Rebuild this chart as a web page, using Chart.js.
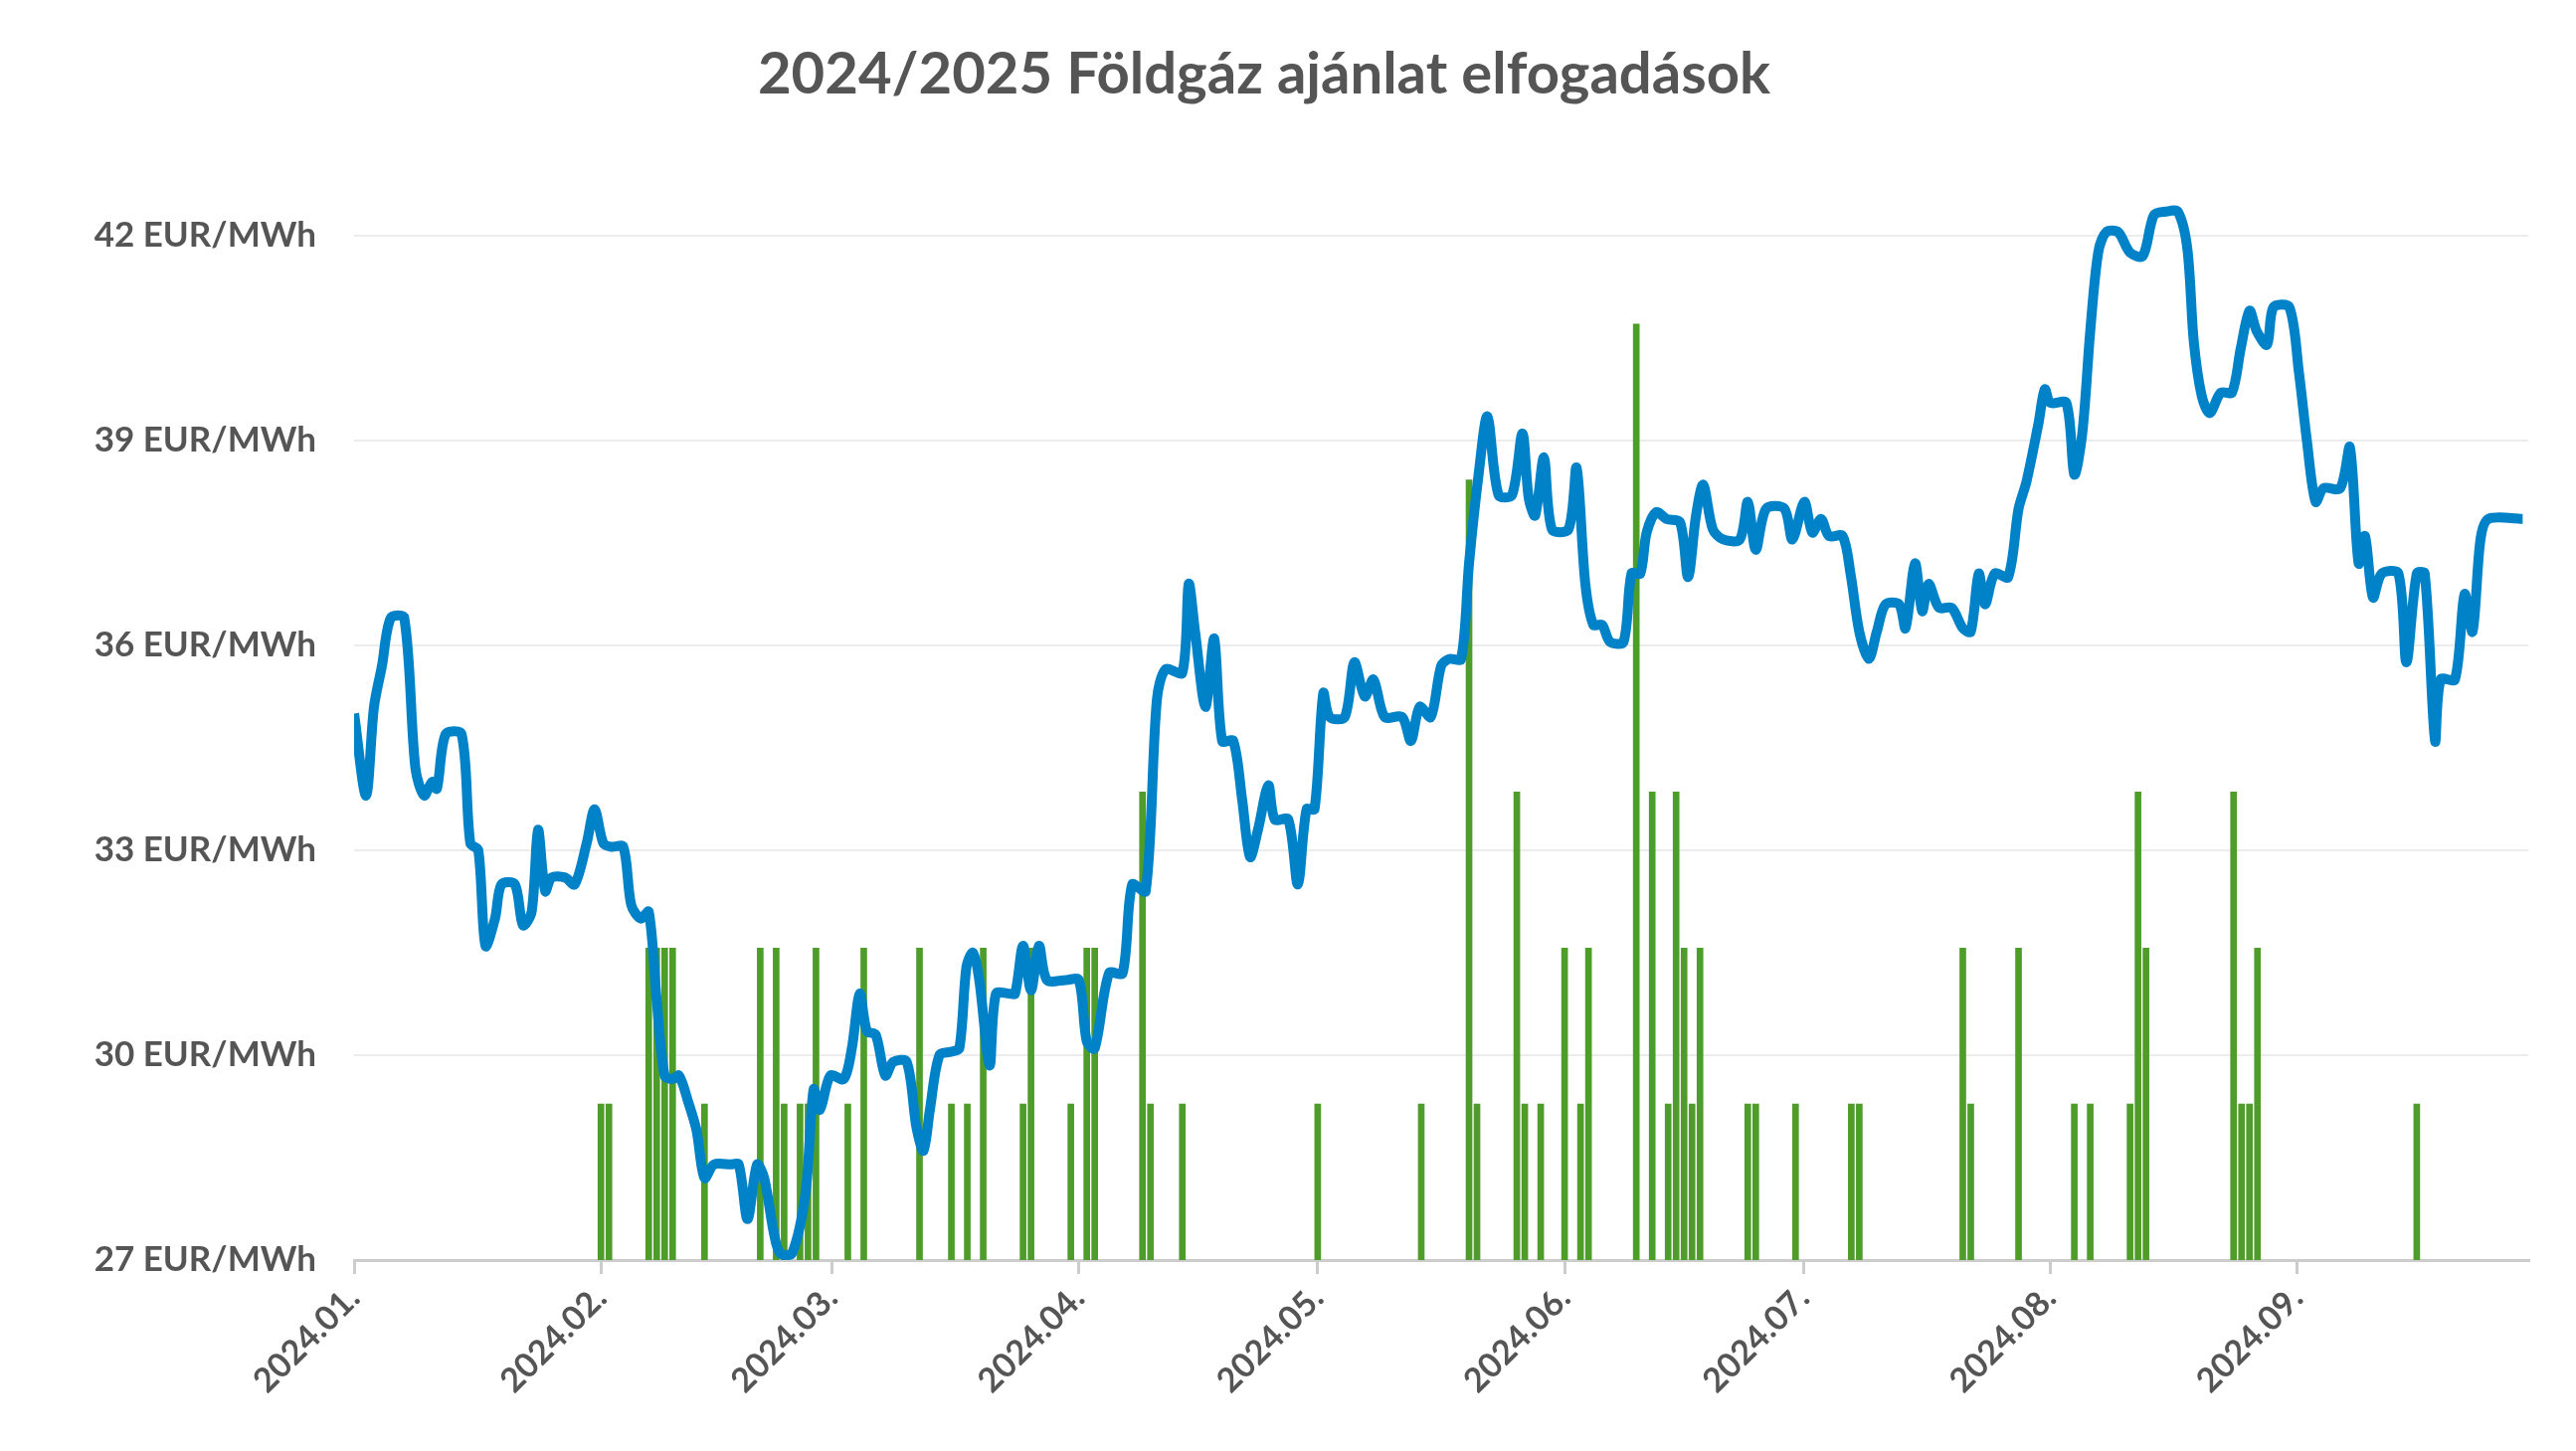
<!DOCTYPE html>
<html>
<head>
<meta charset="utf-8">
<script src="https://cdn.jsdelivr.net/npm/chart.js@4"></script>
<style>
  html, body { margin: 0; padding: 0; background: #fff; }
  #wrap { width: 2590px; height: 1459px; }
</style>
</head>
<body>
<div id="wrap"><canvas id="myChart"></canvas></div>
<script>
// day of year (0 = 2024-01-01)
const monthStarts = [0, 31, 60, 91, 121, 152, 182, 213, 244];
const monthLabels = ['2024.01.', '2024.02.', '2024.03.', '2024.04.', '2024.05.', '2024.06.', '2024.07.', '2024.08.', '2024.09.'];
const yTicks = [27, 30, 33, 36, 39, 42];

const priceDays = [0, 1.5, 2.5, 3.5, 4.6, 6.3, 7.7, 8.8, 9.8, 10.4, 11.5, 13.5, 14.6, 15.6, 16.5, 17.7, 18.5, 20.2, 21.2, 22.3,
  23.1, 24, 24.8, 26.5, 27.7, 29.2, 30.2, 31.3, 32.3, 33.8, 34.8, 36, 37, 38, 39, 40, 40.8, 42, 43, 44,
  45.2, 47.3, 48.3, 49.4, 50.6, 51.5, 52.7, 53.5, 55, 56.7, 57.7, 58.5, 59.8, 61.5, 62.5, 63.5, 64.4, 65.5, 66.7, 67.7,
  69.4, 70.6, 71.5, 72.3, 73.5, 75, 76, 76.9, 77.7, 78.5, 79.8, 80.6, 82.3, 83, 84, 85, 86, 87, 89.4, 91,
  92, 93, 94.8, 96.5, 97.7, 99.4, 100.8, 101.9, 104, 104.8, 105.6, 106.9, 108, 109, 110.4, 111.5, 112.5, 113.5, 114.8, 115.6,
  117.3, 118.5, 119.6, 120.6, 121.7, 122.5, 124.4, 125.6, 126.9, 128, 129.4, 131.6, 132.7, 133.8, 135.2, 136.5, 137.5, 139, 140, 141.2,
  142.3, 143.7, 145.4, 146.7, 147.5, 148.3, 149.4, 150.4, 152.5, 153.5, 154.6, 155.6, 156.7, 157.7, 159.4, 160.4, 161.5, 162.3, 163.5, 164.8,
  166.5, 167.5, 168.5, 169.4, 170.6, 171.9, 174, 175, 176, 177.3, 179.6, 180.6, 182.1, 183.1, 184.2, 185.2, 186.9, 187.9, 189, 190.2,
  191.2, 192.3, 194, 194.8, 196, 196.9, 197.7, 199, 200.6, 202, 203, 204, 204.8, 206, 207.7, 209, 210, 211.5, 212.3, 213,
  215, 216, 217, 218, 219, 220, 221.5, 223, 224.6, 226, 227.5, 229, 230.2, 231, 232, 233, 234.4, 235.8, 236.9, 238,
  238.9, 240.2, 241, 243, 244.2, 245.2, 246.3, 247.3, 249.4, 250.6, 251.7, 252.5, 253.5, 254.6, 256.7, 257.7, 259, 260, 261.3, 262,
  263.8, 265, 266, 267, 268, 272.3];
const prices = [35.0, 33.8, 35.1, 35.7, 36.4, 36.4, 34.2, 33.8, 34.0, 33.9, 34.7, 34.7, 33.1, 33.0, 31.6, 32.0, 32.5, 32.5, 31.9, 32.1,
  33.3, 32.4, 32.6, 32.6, 32.5, 33.1, 33.6, 33.1, 33.05, 33.05, 32.2, 32.0, 32.1, 30.8, 29.7, 29.65, 29.7, 29.3, 28.9, 28.2,
  28.4, 28.4, 28.4, 27.6, 28.4, 28.2, 27.4, 27.1, 27.1, 28.0, 29.5, 29.2, 29.7, 29.65, 30.1, 30.9, 30.35, 30.3, 29.7, 29.9,
  29.9, 28.95, 28.6, 29.2, 30.0, 30.05, 30.1, 31.3, 31.5, 31.1, 29.85, 30.9, 30.9, 30.9, 31.6, 30.95, 31.6, 31.1, 31.1, 31.1,
  30.2, 30.1, 31.2, 31.2, 32.5, 32.4, 35.2, 35.65, 35.6, 36.9, 36.2, 35.1, 36.1, 34.6, 34.6, 33.75, 32.9, 33.3, 33.95, 33.45,
  33.45, 32.5, 33.6, 33.6, 35.3, 34.95, 34.95, 35.75, 35.25, 35.5, 34.95, 34.95, 34.6, 35.1, 34.95, 35.7, 35.8, 35.8, 37.2, 38.5,
  39.35, 38.2, 38.2, 39.1, 38.15, 37.9, 38.75, 37.7, 37.7, 38.6, 36.9, 36.3, 36.3, 36.05, 36.05, 37.05, 37.05, 37.65, 37.95, 37.85,
  37.8, 37.0, 37.9, 38.35, 37.7, 37.55, 37.55, 38.1, 37.4, 38.0, 38.0, 37.55, 38.1, 37.65, 37.85, 37.6, 37.6, 37.05, 36.2, 35.8,
  36.2, 36.6, 36.6, 36.25, 37.2, 36.5, 36.9, 36.55, 36.55, 36.25, 36.2, 37.05, 36.6, 37.05, 37.0, 38.0, 38.4, 39.25, 39.75, 39.55,
  39.55, 38.5, 39.1, 40.6, 41.75, 42.05, 42.05, 41.75, 41.7, 42.3, 42.35, 42.35, 41.8, 40.45, 39.65, 39.4, 39.7, 39.7, 40.35, 40.9,
  40.6, 40.4, 40.95, 40.95, 40.0, 39.0, 38.1, 38.3, 38.3, 38.9, 37.2, 37.6, 36.7, 37.05, 37.05, 35.75, 37.05, 37.05, 34.6, 35.5,
  35.5, 36.75, 36.2, 37.55, 37.85, 37.85];

// accepted offers per day
const offerDays = [31, 32, 37, 38, 39, 40, 44, 51, 53, 54, 56, 57, 58, 62, 64, 71, 75, 77, 79, 84,
  85, 90, 92, 93, 99, 100, 104, 121, 134, 140, 141, 146, 147, 149, 152, 154, 155, 161, 163, 165,
  166, 167, 168, 169, 175, 176, 181, 188, 189, 202, 203, 209, 216, 218, 223, 224, 225, 236, 237, 238,
  239, 259];
const offerCounts = [1, 1, 2, 2, 2, 2, 1, 2, 2, 1, 1, 1, 2, 1, 2, 2, 1, 1, 2, 1,
  2, 1, 2, 2, 3, 1, 1, 1, 1, 5, 1, 3, 1, 1, 2, 1, 2, 6, 3, 1,
  3, 2, 1, 2, 1, 1, 1, 1, 1, 2, 1, 2, 1, 1, 1, 3, 2, 3, 1, 1,
  2, 1];

const textColor = '#555555';
const fontFamily = 'Lato, "Open Sans", sans-serif';

const ctx = document.getElementById('myChart').getContext('2d');
new Chart(ctx, {
    data: {
        datasets: [{
            type: 'line',
            label: 'Ár',
            data: priceDays.map((d, i) => ({ x: d, y: prices[i] })),
            borderColor: '#0082C8',
            borderWidth: 10,
            pointRadius: 0,
            tension: 0.3,
            yAxisID: 'y',
            order: 1
        }, {
            type: 'bar',
            label: 'Elfogadások',
            data: offerDays.map((d, i) => ({ x: d, y: offerCounts[i] })),
            backgroundColor: '#4E9C2A',
            barThickness: 6,
            yAxisID: 'y2',
            order: 2
        }]
    },
    options: {
        responsive: true,
        maintainAspectRatio: false,
        animation: false,
        layout: { padding: { left: 0, right: 48, bottom: 8 } },
        plugins: {
            legend: { display: false },
            tooltip: { enabled: false },
            title: {
                display: true,
                text: '2024/2025 Földgáz ajánlat elfogadások',
                color: textColor,
                font: { family: fontFamily, size: 58, weight: 'bold' },
                padding: { top: 40, bottom: 86 }
            }
        },
        scales: {
            x: {
                type: 'linear',
                offset: false,
                min: 0,
                max: 273,
                afterBuildTicks: s => { s.ticks = monthStarts.map(v => ({ value: v })); },
                ticks: {
                    callback: v => monthLabels[monthStarts.indexOf(v)],
                    color: textColor,
                    font: { family: fontFamily, size: 34, weight: 'bold' },
                    minRotation: 45,
                    maxRotation: 45,
                    padding: 4
                },
                grid: { offset: false, drawOnChartArea: false, color: '#cccccc', lineWidth: 3, tickLength: 14 },
                border: { color: '#cccccc', width: 3 },
                afterFit: s => { s.height = 184; }
            },
            y: {
                min: 27,
                max: 42.6,
                afterBuildTicks: s => { s.ticks = yTicks.map(v => ({ value: v })); },
                ticks: {
                    callback: v => v + ' EUR/MWh',
                    color: textColor,
                    font: { family: fontFamily, size: 35, weight: 'bold' },
                    padding: 38
                },
                grid: { color: '#ececec', lineWidth: 2, drawTicks: false },
                border: { display: false },
                afterFit: s => { s.width = 356; }
            },
            y2: {
                display: false,
                min: 0,
                max: 6.83,
                position: 'right',
                grid: { drawOnChartArea: false }
            }
        }
    }
});
</script>
</body>
</html>
